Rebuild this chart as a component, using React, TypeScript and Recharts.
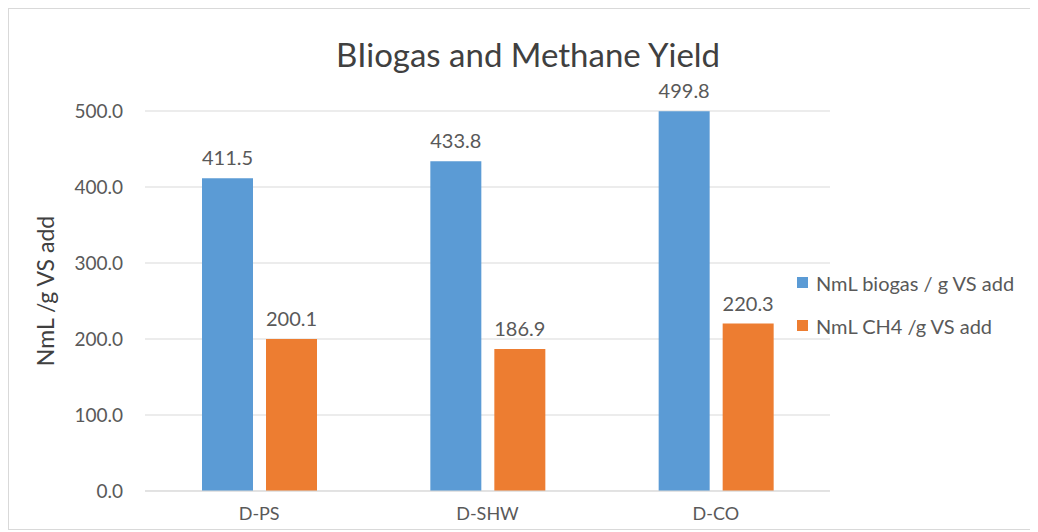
import React from "react"
import { BarChart, Bar, XAxis, YAxis, CartesianGrid, LabelList, Label } from "recharts"

const categories = ["D-PS", "D-SHW", "D-CO"]
const biogas = [411.5, 433.8, 499.8]
const methane = [200.1, 186.9, 220.3]
const yTicks = [0, 100, 200, 300, 400, 500]

const BLUE = "#5B9BD5"
const ORANGE = "#ED7D31"
const TEXT = "#595959"
const FONT = "Lato, 'Open Sans', sans-serif"

const data = categories.map((c, i) => ({ name: c, biogas: biogas[i], methane: methane[i] }))

const legendItems = [
  { label: "NmL biogas / g VS add", color: BLUE },
  { label: "NmL CH4 /g VS add", color: ORANGE },
]

function LegendBox() {
  return (
    <div
      style={{
        position: "absolute",
        left: 788,
        top: 252,
        fontFamily: FONT,
        fontSize: 20,
        color: TEXT,
        whiteSpace: "nowrap",
      }}
    >
      {legendItems.map((it) => (
        <div key={it.label} style={{ display: "flex", alignItems: "center", height: 43 }}>
          <span style={{ width: 11, height: 11, background: it.color, marginRight: 8 }} />
          <span>{it.label}</span>
        </div>
      ))}
    </div>
  )
}

export default function App() {
  return (
    <div
      style={{
        width: 1029,
        height: 520,
        borderTop: "1px solid #d9d9d9",
        borderLeft: "1px solid #d9d9d9",
        borderBottom: "1px solid #d9d9d9",
        background: "#fff",
        position: "relative",
        overflow: "hidden",
      }}
    >
      <div
        style={{
          position: "absolute",
          left: 0,
          width: 1038,
          top: 25,
          textAlign: "center",
          fontFamily: FONT,
          fontSize: 33,
          color: "#404040",
        }}
      >
        BIiogas and Methane Yield
      </div>
      <BarChart
        width={1029}
        height={520}
        data={data}
        margin={{ top: 102, right: 208, left: 0, bottom: 0 }}
        barGap={13}
      >
        <CartesianGrid stroke="#d9d9d9" vertical={false} />
        <XAxis
          dataKey="name"
          height={38}
          axisLine={{ stroke: "#d9d9d9" }}
          tickLine={false}
          tickSize={0}
          tickMargin={16}
          tick={{ fill: TEXT, fontSize: 18, fontFamily: FONT }}
        />
        <YAxis
          width={136}
          domain={[0, 500]}
          ticks={yTicks}
          axisLine={false}
          tickLine={false}
          tickSize={0}
          tickMargin={22}
          tick={{ fill: TEXT, fontSize: 19, fontFamily: FONT }}
          tickFormatter={(v: number) => v.toFixed(1)}
        >
          <Label
            content={() => (
              <text
                x={36}
                y={282}
                transform="rotate(-90 36 282)"
                textAnchor="middle"
                dominantBaseline="central"
                fill="#404040"
                fontSize={23}
                fontFamily={FONT}
              >
                NmL /g VS add
              </text>
            )}
          />
        </YAxis>
        <Bar dataKey="biogas" fill={BLUE} barSize={51} isAnimationActive={false}>
          <LabelList
            dataKey="biogas"
            position="top"
            offset={13}
            fill={TEXT}
            fontSize={20}
            fontFamily={FONT}
            formatter={(v: number) => v.toFixed(1)}
          />
        </Bar>
        <Bar dataKey="methane" fill={ORANGE} barSize={51} isAnimationActive={false}>
          <LabelList
            dataKey="methane"
            position="top"
            offset={13}
            fill={TEXT}
            fontSize={20}
            fontFamily={FONT}
            formatter={(v: number) => v.toFixed(1)}
          />
        </Bar>
      </BarChart>
      <LegendBox />
    </div>
  )
}
